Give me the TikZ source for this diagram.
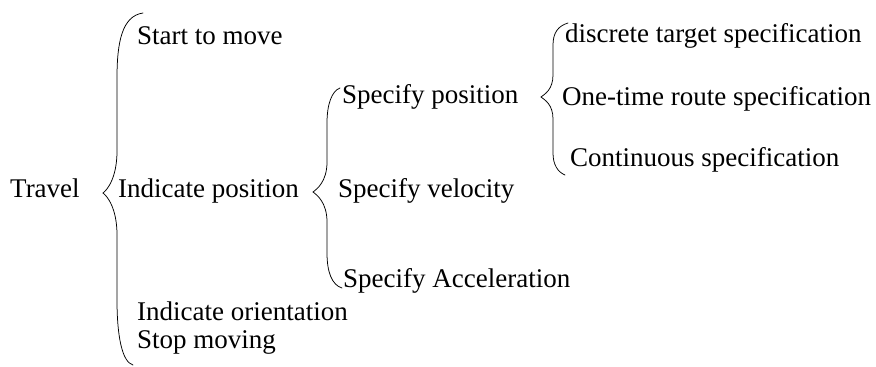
\documentclass[tikz,border=0pt]{standalone}
\usepackage{fontspec}
\setmainfont{Liberation Serif}
\newcommand{\mybrace}[9]{%
% #1,#2 top end; #3 line x; #4,#5 tip; #6,#7 bottom end; #8 curl length; #9 tip span
\draw[bracestyle] (#1,#2) .. controls ({#3+5},{#2+3}) and (#3,{#2+#8*0.45}) .. (#3,{#2+#8})
  -- (#3,{#5-#9}) .. controls (#3,{#5-#9*0.35}) and ({#4+4},{#5-3}) .. (#4,#5)
  .. controls ({#4+4},{#5+3}) and (#3,{#5+#9*0.35}) .. (#3,{#5+#9})
  -- (#3,{#7-#8}) .. controls (#3,{#7-#8*0.45}) and ({#3+5},{#7-3}) .. (#6,#7);}
\tikzset{
  lbl/.style={anchor=mid west, inner sep=0pt, font=\fontsize{27}{30}\selectfont},
  bracestyle/.style={line width=0.75pt, line cap=round}
}
\begin{document}
\begin{tikzpicture}[x=1pt,y=-1pt]
\useasboundingbox[fill=white] (0,0) rectangle (876,367);
\node[lbl] (travel) at (10,195) {Travel};
\node[lbl] (start) at (137,42) {Start to move};
\node[lbl] (indpos) at (118,195) {Indicate position};
\node[lbl] (indori) at (137,318) {Indicate orientation};
\node[lbl] (stop) at (137,346) {Stop moving};
\node[lbl] (specpos) at (342,101) {Specify position};
\node[lbl] (specvel) at (338,195) {Specify velocity};
\node[lbl] (specacc) at (343,285) {Specify Acceleration};
\node[lbl] (discrete) at (565,40) {discrete target specification};
\node[lbl] (onetime) at (562,103) {One-time route specification};
\node[lbl] (continuous) at (570,164) {Continuous specification};
\mybrace{143}{13}{117}{103}{193}{133}{365}{65}{42}
\mybrace{340}{88}{327}{313}{192}{342}{288}{35}{30}
\mybrace{568}{23}{553}{541}{97}{565}{175}{22}{22}
\end{tikzpicture}
\end{document}
